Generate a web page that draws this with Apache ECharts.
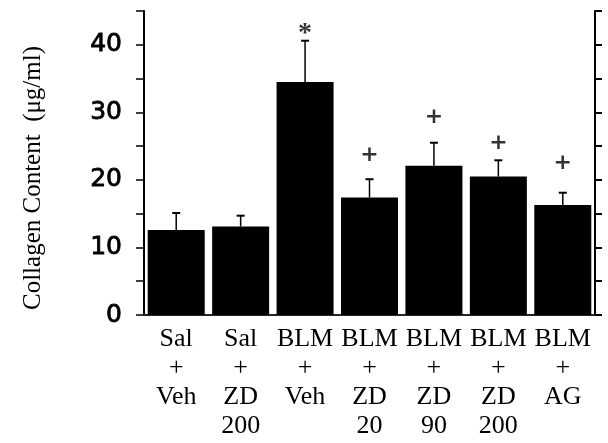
<!DOCTYPE html>
<html>
<head>
<meta charset="utf-8">
<script src="https://cdn.jsdelivr.net/npm/echarts@6/dist/echarts.min.js"></script>
<style>
  html, body { margin: 0; padding: 0; background: #fff; }
  #chart { width: 608px; height: 443px; }
</style>
</head>
<body>
<div id="chart"></div>
<script>
// groups shown under each bar (three or four lines)
var categories = ['Sal\n+\nVeh', 'Sal\n+\nZD\n200', 'BLM\n+\nVeh', 'BLM\n+\nZD\n20',
                  'BLM\n+\nZD\n90', 'BLM\n+\nZD\n200', 'BLM\n+\nAG']
// mean collagen content (ug/ml)
var means = [12.6, 13.1, 34.5, 17.4, 22.1, 20.5, 16.3]
// upper error (SEM)
var errors = [2.5, 1.6, 6.1, 2.7, 3.4, 2.4, 1.8]
// significance marks and the height they sit at
var marks = ['', '', '*', '+', '+', '+', '+']
var markHeights = [null, null, 41.6, 23.6, 29.2, 25.4, 22.4]
var yTicks = [0, 10, 20, 30, 40]

var mychart = echarts.init(document.getElementById('chart'))

var errData = means.map(function (m, i) { return [i, m, m + errors[i]] })
var markData = []
marks.forEach(function (s, i) {
    if (!s) return
    markData.push({
        value: [i, markHeights[i]],
        mark: s,
        label: s == '*'
            ? { fontFamily: 'Liberation Serif', fontSize: 28, fontWeight: 'bold' }
            : { fontFamily: 'DejaVu Sans', fontSize: 22, fontWeight: 'bold' }
    })
})

mychart.setOption({
    animation: false,
    grid: { left: 144, right: 13, top: 11, bottom: 128 },
    xAxis: [{
        type: 'category',
        data: categories,
        position: 'bottom',
        axisLine: { show: true, lineStyle: { color: '#999', width: 2 } },
        axisTick: { show: false },
        axisLabel: {
            margin: 10,
            fontFamily: 'Liberation Serif',
            fontSize: 26,
            lineHeight: 29,
            color: '#000',
            interval: 0
        }
    }, {
        type: 'category',
        data: categories,
        position: 'top',
        axisLine: { show: true, lineStyle: { color: '#000', width: 1.5 } },
        axisTick: { show: true, alignWithLabel: true, length: 3, lineStyle: { color: '#000', width: 1.5 } },
        axisLabel: { show: false }
    }],
    yAxis: [{
        type: 'value',
        min: 0,
        max: 45,
        interval: 5,
        name: 'Collagen Content  (\u03bcg/ml)',
        nameLocation: 'middle',
        nameRotate: 90,
        nameGap: 98,
        nameTextStyle: {
            fontFamily: 'Liberation Serif',
            fontSize: 25,
            color: '#000',
            padding: [0, 30, 0, 0]
        },
        axisLine: { show: true, lineStyle: { color: '#000', width: 2 } },
        axisTick: { show: true, length: 8, lineStyle: { color: '#000', width: 1.5 } },
        splitLine: { show: false },
        axisLabel: {
            margin: 22,
            fontFamily: 'DejaVu Sans',
            fontSize: 25,
            color: '#000',
            textBorderColor: '#000',
            textBorderWidth: 0.8,
            formatter: function (v) { return yTicks.indexOf(v) >= 0 ? v : '' }
        }
    }, {
        type: 'value',
        min: 0,
        max: 45,
        interval: 5,
        position: 'right',
        axisLine: { show: true, lineStyle: { color: '#000', width: 2 } },
        axisTick: { show: true, length: 7, lineStyle: { color: '#000', width: 2 } },
        splitLine: { show: false },
        axisLabel: { show: false }
    }],
    series: [{
        type: 'bar',
        data: means,
        barWidth: 57,
        itemStyle: { color: '#000' }
    }, {
        type: 'custom',
        data: errData,
        z: 3,
        renderItem: function (params, api) {
            var p0 = api.coord([api.value(0), api.value(1)])
            var p1 = api.coord([api.value(0), api.value(2)])
            return {
                type: 'group',
                children: [{
                    type: 'line',
                    shape: { x1: p0[0], y1: p0[1], x2: p1[0], y2: p1[1] },
                    style: { stroke: '#000', lineWidth: 1.5 }
                }, {
                    type: 'line',
                    shape: { x1: p1[0] - 4, y1: p1[1], x2: p1[0] + 4, y2: p1[1] },
                    style: { stroke: '#000', lineWidth: 2 }
                }]
            }
        }
    }, {
        type: 'scatter',
        data: markData,
        symbolSize: 1,
        itemStyle: { color: 'rgba(0,0,0,0)' },
        label: {
            show: true,
            position: 'inside',
            color: '#000',
            formatter: function (p) { return p.data.mark }
        }
    }]
})
</script>
</body>
</html>
